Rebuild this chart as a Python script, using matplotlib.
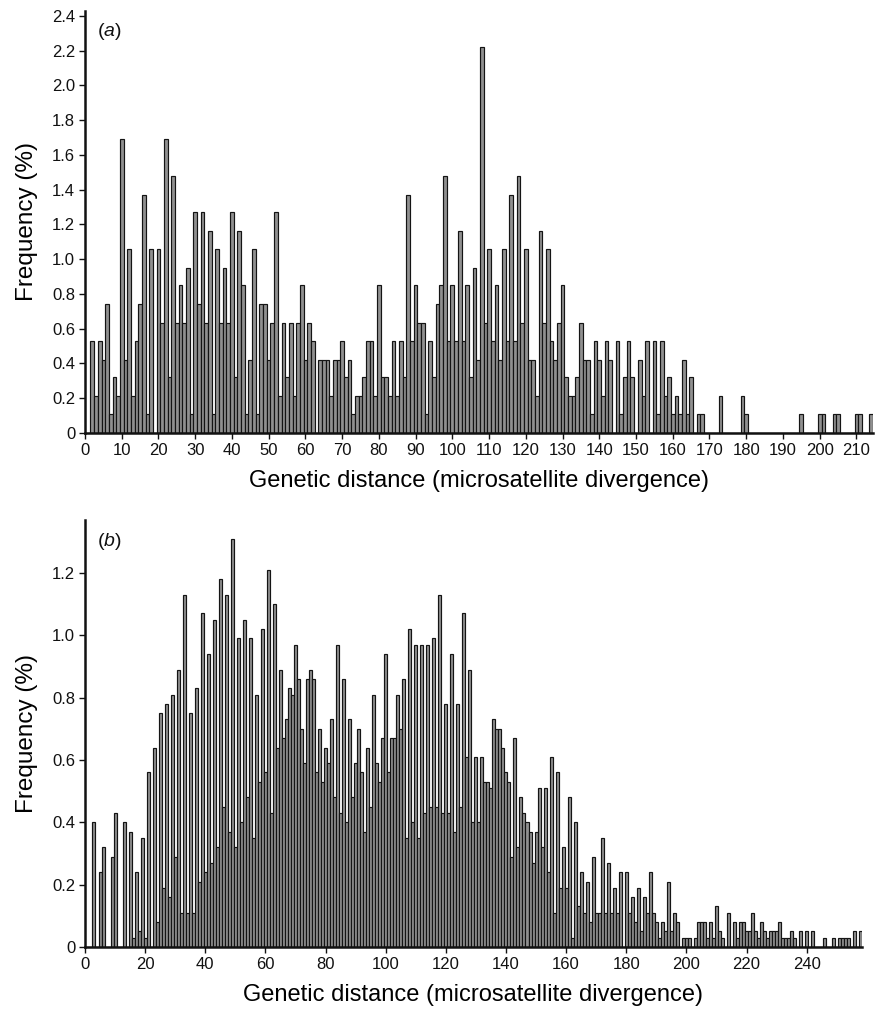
import numpy as np
import matplotlib
matplotlib.use('Agg')
import matplotlib.pyplot as plt

plt.rcParams['font.family'] = ['Liberation Sans', 'DejaVu Sans']
plt.rcParams['mathtext.fontset'] = 'custom'
plt.rcParams['mathtext.rm'] = 'Liberation Sans'
plt.rcParams['mathtext.it'] = 'Liberation Sans:italic'

# (a) frequency (%) for genetic distance 1..214
freq_a = [
    0, 0.53, 0.21, 0.53, 0.42, 0.74, 0.11, 0.32, 0.21, 1.69,
    0.42, 1.06, 0.21, 0.53, 0.74, 1.37, 0.11, 1.06, 0, 1.06,
    0.63, 1.69, 0.32, 1.48, 0.63, 0.85, 0.63, 0.95, 0.11, 1.27,
    0.74, 1.27, 0.63, 1.16, 0.11, 1.06, 0.63, 0.95, 0.63, 1.27,
    0.32, 1.16, 0.85, 0.11, 0.42, 1.06, 0.11, 0.74, 0.74, 0.42,
    0.63, 1.27, 0.21, 0.63, 0.32, 0.63, 0.21, 0.63, 0.85, 0.42,
    0.63, 0.53, 0, 0.42, 0.42, 0.42, 0.21, 0.42, 0.42, 0.53,
    0.32, 0.42, 0.11, 0.21, 0.21, 0.32, 0.53, 0.53, 0.21, 0.85,
    0.32, 0.32, 0.21, 0.53, 0.21, 0.53, 0.32, 1.37, 0.53, 0.85,
    0.63, 0.63, 0.11, 0.53, 0.32, 0.74, 0.85, 1.48, 0.53, 0.85,
    0.53, 1.16, 0.53, 0.85, 0.32, 0.95, 0.42, 2.22, 0.63, 1.06,
    0.53, 0.85, 0.42, 1.06, 0.53, 1.37, 0.53, 1.48, 0.63, 1.06,
    0.42, 0.42, 0.21, 1.16, 0.63, 1.06, 0.53, 0.42, 0.63, 0.85,
    0.32, 0.21, 0.21, 0.32, 0.63, 0.42, 0.42, 0.11, 0.53, 0.42,
    0.21, 0.53, 0.42, 0, 0.53, 0.11, 0.32, 0.53, 0.32, 0,
    0.42, 0.21, 0.53, 0, 0.53, 0.11, 0.53, 0.21, 0.32, 0.11,
    0.21, 0.11, 0.42, 0.11, 0.32, 0, 0.11, 0.11, 0, 0,
    0, 0, 0.21, 0, 0, 0, 0, 0, 0.21, 0.11,
    0, 0, 0, 0, 0, 0, 0, 0, 0, 0,
    0, 0, 0, 0, 0.11, 0, 0, 0, 0, 0.11,
    0.11, 0, 0, 0.11, 0.11, 0, 0, 0, 0, 0.11,
    0.11, 0, 0, 0.11,
]

# (b) frequency (%) for genetic distance 1..258
freq_b = [
    0, 0, 0.40, 0, 0.24, 0.32, 0, 0, 0.29, 0.43,
    0, 0, 0.40, 0, 0.37, 0.03, 0.24, 0.05, 0.35, 0.03,
    0.56, 0, 0.64, 0.08, 0.75, 0.19, 0.78, 0.16, 0.81, 0.29,
    0.89, 0.11, 1.13, 0.11, 0.75, 0.11, 0.83, 0.21, 1.07, 0.24,
    0.94, 0.27, 1.05, 0.32, 1.18, 0.45, 1.13, 0.37, 1.31, 0.32,
    0.99, 0.40, 1.05, 0.48, 0.99, 0.35, 0.81, 0.53, 1.02, 0.56,
    1.21, 0.43, 1.10, 0.64, 0.89, 0.67, 0.73, 0.83, 0.81, 0.97,
    0.86, 0.70, 0.59, 0.86, 0.89, 0.86, 0.56, 0.70, 0.53, 0.64,
    0.59, 0.73, 0.48, 0.97, 0.43, 0.86, 0.40, 0.73, 0.48, 0.59,
    0.70, 0.56, 0.37, 0.64, 0.45, 0.81, 0.59, 0.53, 0.67, 0.94,
    0.56, 0.67, 0.67, 0.81, 0.70, 0.86, 0.35, 1.02, 0.40, 0.97,
    0.35, 0.97, 0.43, 0.97, 0.45, 0.99, 0.45, 1.13, 0.43, 0.78,
    0.43, 0.94, 0.37, 0.78, 0.45, 1.07, 0.61, 0.89, 0.40, 0.61,
    0.40, 0.61, 0.53, 0.53, 0.51, 0.73, 0.70, 0.70, 0.64, 0.56,
    0.53, 0.29, 0.67, 0.32, 0.48, 0.43, 0.40, 0.37, 0.27, 0.37,
    0.51, 0.32, 0.51, 0.24, 0.61, 0.11, 0.56, 0.19, 0.32, 0.19,
    0.48, 0.03, 0.40, 0.13, 0.24, 0.11, 0.21, 0.08, 0.29, 0.11,
    0.11, 0.35, 0.11, 0.27, 0.11, 0.19, 0.11, 0.24, 0, 0.24,
    0.11, 0.16, 0.08, 0.19, 0.05, 0.16, 0.11, 0.24, 0.11, 0.08,
    0.03, 0.08, 0.05, 0.21, 0.05, 0.11, 0.08, 0, 0.03, 0.03,
    0.03, 0, 0.03, 0.08, 0.08, 0.08, 0.03, 0.08, 0.03, 0.13,
    0.05, 0.03, 0, 0.11, 0, 0.08, 0.03, 0.08, 0.08, 0.05,
    0.05, 0.11, 0.05, 0.03, 0.08, 0.05, 0.03, 0.05, 0.05, 0.05,
    0.08, 0.03, 0.03, 0.03, 0.05, 0.03, 0, 0.05, 0, 0.05,
    0, 0.05, 0, 0, 0, 0.03, 0, 0, 0.03, 0,
    0.03, 0.03, 0.03, 0.03, 0, 0.05, 0, 0.05,
]

dist_a = np.arange(1, len(freq_a) + 1)
dist_b = np.arange(1, len(freq_b) + 1)

xticks_a = list(range(0, 211, 10))
xticks_b = list(range(0, 241, 20))
yticks_a = [0, 0.2, 0.4, 0.6, 0.8, 1.0, 1.2, 1.4, 1.6, 1.8, 2.0, 2.2, 2.4]
yticks_b = [0, 0.2, 0.4, 0.6, 0.8, 1.0, 1.2]

bar_face = '#909090'
bar_edge = '#141414'

fig = plt.figure(figsize=(8.76, 10.19), dpi=100)
ax_a = fig.add_axes([0.097, 0.5751, 0.8995, 0.4144])
ax_b = fig.add_axes([0.097, 0.0707, 0.887, 0.419])


def style_axis(ax, xticks, yticks, xmax, ymax, tag):
    ax.set_xlim(0, xmax)
    ax.set_ylim(0, ymax)
    ax.set_xticks(xticks)
    ax.set_yticks(yticks)
    ax.set_yticklabels(['0' if v == 0 else f'{v:.1f}' for v in yticks])
    for side in ['top', 'right']:
        ax.spines[side].set_visible(False)
    for side in ['left', 'bottom']:
        ax.spines[side].set_linewidth(1.8)
        ax.spines[side].set_color('#111111')
    ax.tick_params(direction='out', length=4.5, width=1, labelsize=12, colors='#111111', pad=2.5)
    ax.set_xlabel('Genetic distance (microsatellite divergence)', fontsize=17, labelpad=9)
    ax.set_ylabel('Frequency (%)', fontsize=17.5, labelpad=10)
    ax.text(0.015, 0.95, r'$\mathrm{(}\mathit{' + tag + r'}\mathrm{)}$', transform=ax.transAxes,
            fontsize=14, va='center', ha='left', color='#111111')


ax_a.bar(dist_a, freq_a, width=1.0, color=bar_face, edgecolor=bar_edge, linewidth=0.85)
ax_b.bar(dist_b, freq_b, width=1.0, color=bar_face, edgecolor=bar_edge, linewidth=0.85)

style_axis(ax_a, xticks_a, yticks_a, 214.5, 2.43, 'a')
style_axis(ax_b, xticks_b, yticks_b, 258.4, 1.37, 'b')

fig.savefig('out.png', dpi=100)
